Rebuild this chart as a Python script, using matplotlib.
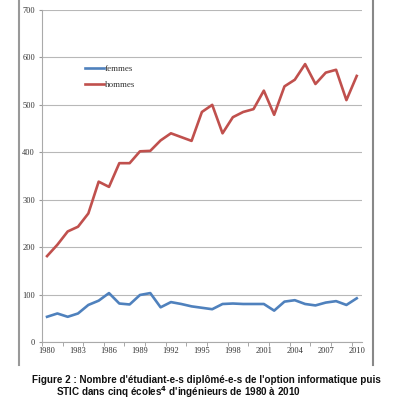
import matplotlib.pyplot as plt
from matplotlib.lines import Line2D

years = list(range(1980, 2011))
femmes = [53, 60, 53, 60, 78, 87, 103, 81, 79, 99, 103, 73, 84, 80, 75, 72,
          69, 80, 81, 80, 80, 80, 66, 85, 88, 80, 77, 83, 86, 78, 92]
hommes = [181, 205, 233, 243, 271, 338, 327, 377, 377, 402, 403, 425, 440, 432, 424, 485,
          500, 440, 474, 485, 491, 530, 479, 539, 553, 586, 544, 568, 574, 510, 561]
tick_years = list(range(1980, 2011, 3))

fig = plt.figure(figsize=(3.99, 4.18), dpi=100)
ax = fig.add_axes([0.105, 0.182, 0.802, 0.794])

ax.plot(years, femmes, color="#4f81bd", lw=1.9, label="femmes")
ax.plot(years, hommes, color="#c0504d", lw=1.9, label="hommes")

ax.set_ylim(0, 700)
ax.set_yticks(range(0, 701, 100))
ax.set_xlim(1979.5, 2010.5)
ax.set_xticks(tick_years)
ax.set_xticks([y - 0.5 for y in range(1980, 2012, 2)], minor=True)
ax.tick_params(axis="x", which="major", length=0, pad=4)
ax.tick_params(axis="x", which="minor", length=3, color="#999999", direction="out")
ax.tick_params(axis="y", length=2, color="#999999", pad=3)
for lab in ax.get_xticklabels() + ax.get_yticklabels():
    lab.set_fontfamily("Liberation Serif")
    lab.set_fontsize(6)
    lab.set_color("#333333")

ax.grid(axis="y", color="#b8b8b8", lw=0.8)
ax.set_axisbelow(True)
for s in ["top", "right"]:
    ax.spines[s].set_visible(False)
ax.spines["left"].set_color("#aaaaaa")
ax.spines["bottom"].set_color("#aaaaaa")

ax.legend(loc="upper left", bbox_to_anchor=(0.11, 0.86), frameon=False,
          prop={"family": "Liberation Serif", "size": 6.5},
          handlelength=2.1, handletextpad=0.1, labelspacing=0.9, labelcolor="#333333")

# cadre extérieur (côtés)
fig.add_artist(Line2D([19 / 399, 19 / 399], [1, 1 - 365 / 418], color="#999999", lw=1.5))
fig.add_artist(Line2D([373 / 399, 373 / 399], [1, 1 - 365 / 418], color="#888888", lw=1.5))

fig.text(32 / 399, 1 - 380 / 418,
         "Figure 2 : Nombre d'étudiant-e-s diplômé-e-s de l'option informatique puis",
         fontfamily="Liberation Sans", fontweight="bold", fontsize=7.1, va="center", color="#111111")
fig.text(56 / 399, 1 - 392 / 418,
         "STIC dans cinq écoles$^\\mathbf{4}$ d'ingénieurs de 1980 à 2010",
         fontfamily="Liberation Sans", fontweight="bold", fontsize=7.1, va="center", color="#111111")

fig.savefig("out.png", dpi=100)
